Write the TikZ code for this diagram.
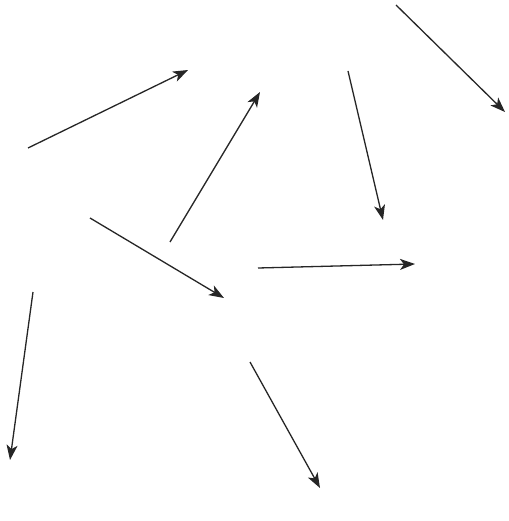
\documentclass[tikz,border=0pt]{standalone}
\usetikzlibrary{arrows.meta}
\begin{document}
\begin{tikzpicture}[x=1pt,y=-1pt,
  vec/.style={draw=black!85,line width=1.3pt,-{Stealth[length=15pt,width=11pt,inset=4pt]}}]
\useasboundingbox[fill=white] (0,0) rectangle (508,521);
\coordinate (a1s) at (28,148);  \coordinate (a1e) at (188,70);
\coordinate (a2s) at (170,242); \coordinate (a2e) at (260,92);
\coordinate (a3s) at (90,218);  \coordinate (a3e) at (224,298);
\coordinate (a4s) at (396,5);   \coordinate (a4e) at (505,112);
\coordinate (a5s) at (348,71);  \coordinate (a5e) at (383,220);
\coordinate (a6s) at (258,268); \coordinate (a6e) at (415,264);
\coordinate (a7s) at (33,292);  \coordinate (a7e) at (10,460);
\coordinate (a8s) at (250,362); \coordinate (a8e) at (320,488);
\foreach \i in {1,...,8} \draw[vec] (a\i s) -- (a\i e);
\end{tikzpicture}
\end{document}
